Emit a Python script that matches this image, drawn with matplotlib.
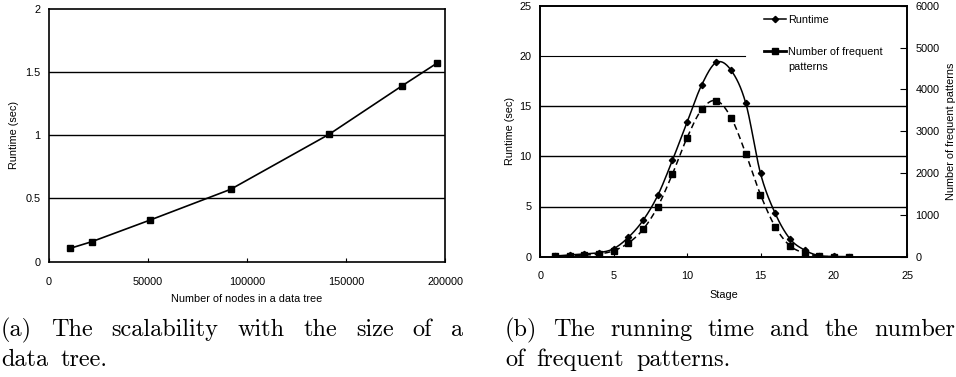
import numpy as np
import matplotlib
matplotlib.use("Agg")
import matplotlib.pyplot as plt
from matplotlib.lines import Line2D

# ---- data ----
nodes = [10900, 21700, 51300, 91800, 141500, 178200, 196100]
runtime_a = [0.106, 0.158, 0.33, 0.572, 1.007, 1.389, 1.571]

stages = list(range(1, 22))
runtime_b = [0.07, 0.17, 0.27, 0.40, 0.80, 1.93, 3.62, 6.1, 9.6, 13.4, 17.13,
             19.36, 18.56, 15.27, 8.3, 4.32, 1.79, 0.66, 0.10, 0.03, 0.0]
patterns = [16, 24, 40, 64, 143, 327, 653, 1195, 1976, 2845, 3522,
            3729, 3323, 2462, 1482, 717, 263, 88, 16, 0, 0]

caption_a = ["(a) The scalability with the size of a", "data tree."]
caption_b = ["(b) The running time and the number", "of frequent patterns."]

W, H = 956, 377
plt.rcParams['font.family'] = ['Liberation Sans', 'DejaVu Sans']
fig = plt.figure(figsize=(W / 100, H / 100), dpi=100)


def smooth(x, y, n=24):
    x = np.asarray(x, float)
    y = np.asarray(y, float)
    P = np.column_stack([x, y])
    out = []
    m = len(P)
    for i in range(m - 1):
        p0 = P[i - 1] if i > 0 else P[i]
        p1 = P[i]
        p2 = P[i + 1]
        p3 = P[i + 2] if i + 2 < m else P[i + 1]
        c1 = p1 + (p2 - p0) / 6.0
        c2 = p2 - (p3 - p1) / 6.0
        t = np.linspace(0, 1, n, endpoint=(i == m - 2))[:, None]
        seg = ((1 - t) ** 3) * p1 + 3 * ((1 - t) ** 2) * t * c1 + 3 * (1 - t) * t ** 2 * c2 + t ** 3 * p2
        out.append(seg)
    out = np.vstack(out)
    return out[:, 0], out[:, 1]


def fpos(x0, y0, x1, y1):
    return [x0 / W, 1 - y1 / H, (x1 - x0) / W, (y1 - y0) / H]


FS = 7.8

# ---- chart (a) ----
ax1 = fig.add_axes(fpos(48.7, 8.7, 445, 261.7))
ax1.set_xlim(0, 200000)
ax1.set_ylim(0, 2)
for v in [0.5, 1.0, 1.5]:
    ax1.axhline(v, color='black', lw=1.0, zorder=1)
ax1.plot(nodes, runtime_a, color='black', lw=1.2, marker='s', ms=4.2, zorder=3)
ax1.set_xticks([0, 50000, 100000, 150000, 200000])
ax1.set_xticklabels(['0', '50000', '100000', '150000', '200000'])
ax1.set_yticks([0, 0.5, 1, 1.5, 2])
ax1.set_yticklabels(['0', '0.5', '1', '1.5', '2'])
ax1.tick_params(axis='x', direction='in', length=3, width=0.8, labelsize=FS, pad=11)
ax1.tick_params(axis='y', length=0, labelsize=FS, pad=5.8)
ax1.set_xlabel('Number of nodes in a data tree', fontsize=FS, labelpad=5)
ax1.set_ylabel('Runtime (sec)', fontsize=FS, labelpad=4.5)
for s in ax1.spines.values():
    s.set_linewidth(1.2)

# ---- chart (b) ----
ax2 = fig.add_axes(fpos(540.3, 5.7, 907.3, 256.7))
ax2.set_xlim(0, 25)
ax2.set_ylim(0, 25)
for v in [5, 10, 15]:
    ax2.axhline(v, color='black', lw=1.0, zorder=1)
ax2.axhline(20, xmin=0, xmax=0.558, color='black', lw=0.8, zorder=1)
xs, ys = smooth(stages, runtime_b)
ax2.plot(xs, ys, color='black', lw=1.1, zorder=3)
ax2.plot(stages, runtime_b, ls='none', marker='D', ms=3.2, color='black', zorder=4)
ax2.set_xticks([0, 5, 10, 15, 20, 25])
ax2.set_yticks([0, 5, 10, 15, 20, 25])
ax2.tick_params(axis='x', direction='in', length=3, width=0.8, labelsize=FS, pad=10)
ax2.tick_params(axis='y', direction='in', length=0, labelsize=FS, pad=6.2)
ax2.set_xlabel('Stage', fontsize=FS, labelpad=7)
ax2.set_ylabel('Runtime (sec)', fontsize=FS, labelpad=3.5)
for s in ax2.spines.values():
    s.set_linewidth(1.2)

ax3 = ax2.twinx()
ax3.set_ylim(0, 6000)
xs2, ys2 = smooth(stages, patterns)
ax3.plot(xs2, ys2, color='black', lw=1.1, ls=(0, (4, 2.5)), zorder=3)
ax3.plot(stages, patterns, ls='none', marker='s', ms=4.5, color='black', zorder=4)
ax3.set_yticks([0, 1000, 2000, 3000, 4000, 5000, 6000])
ax3.tick_params(axis='y', direction='in', length=5, width=0.8, labelsize=FS, pad=6)
ax3.set_ylabel('Number of frequent patterns', fontsize=FS, labelpad=4.5)
for s in ax3.spines.values():
    s.set_linewidth(1.2)

handles = [Line2D([], [], color='black', lw=1.1, marker='D', ms=3.2),
           Line2D([], [], color='black', lw=2.0, marker='s', ms=4.5)]
leg = ax3.legend(handles, ['Runtime', 'Number of frequent'],
                 loc='upper left', bbox_to_anchor=((764 - 540.3) / 367, 1 - 9.5 / 251),
                 frameon=False, fontsize=FS, handlelength=2.0, handletextpad=0.2,
                 labelspacing=2.0, borderaxespad=0, borderpad=0)
leg.set_zorder(5)

# ---- captions ----
CFS = 17.5
fig.canvas.draw()
renderer = fig.canvas.get_renderer()

# second line of the legend label, under its first line
t2 = leg.get_texts()[1]
bb = t2.get_window_extent(renderer)
fig.text(bb.x0 / W, (bb.y0 - 15) / H, 'patterns', fontsize=FS, va='bottom', ha='left')


def justify(line, x0, x1, ybase, full=True):
    words = line.split(' ')
    ts = [fig.text(0, 1 - ybase / H, w, fontsize=CFS, family='cmr10', va='baseline')
          for w in words]
    widths = [t.get_window_extent(renderer).width for t in ts]
    if full and len(words) > 1:
        gap = (x1 - x0 - sum(widths)) / (len(words) - 1)
    else:
        gap = CFS * 100 / 72 * 0.333 * 1.5
    x = x0
    for t, w in zip(ts, widths):
        t.set_x(x / W)
        x += w + gap


justify(caption_a[0], 1, 463, 336)
justify(caption_a[1], 1, 463, 366, full=False)
justify(caption_b[0], 505, 955, 336)
justify(caption_b[1], 505, 955, 366, full=False)

fig.savefig('out.png', dpi=100)
